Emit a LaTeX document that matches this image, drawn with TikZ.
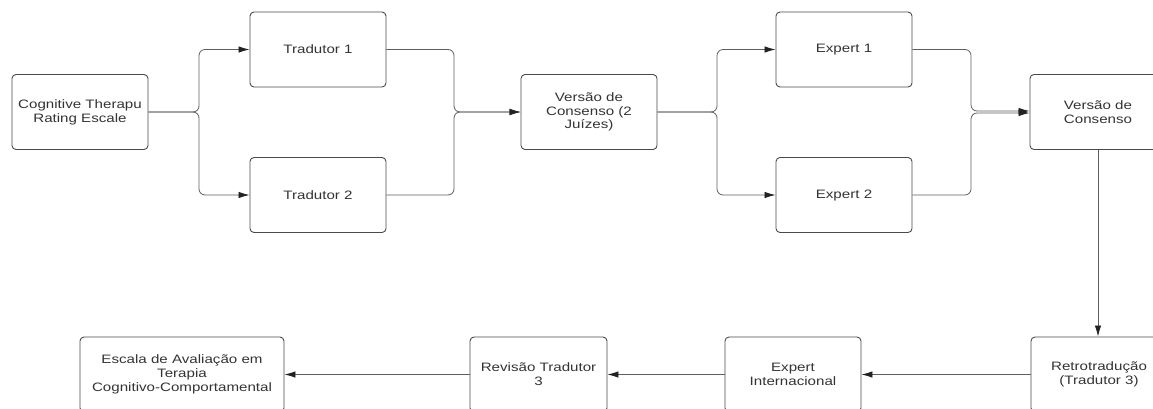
\documentclass[tikz,border=0pt]{standalone}
\usepackage{fontspec}
\setmainfont[FakeStretch=1.24]{Liberation Sans}
\usetikzlibrary{arrows.meta,calc}
\definecolor{linegray}{HTML}{5E5E5E}
\definecolor{boxgray}{HTML}{4A4A4A}
\definecolor{txtgray}{HTML}{333333}
\definecolor{headgray}{HTML}{222222}
\tikzset{
  box/.style={draw=boxgray, line width=0.9pt, rounded corners=4pt, minimum width=136pt, minimum height=75pt,
    align=center, text=txtgray, font=\fontsize{12.2}{13.8}\selectfont, inner sep=0pt},
  conn/.style={draw=linegray, line width=0.8pt, rounded corners=6pt},
  arr/.style={conn, -{Latex[length=11pt,width=6.5pt,color=headgray]}},
}
\begin{document}
\begin{tikzpicture}[x=1pt,y=-1pt]
\useasboundingbox (0,0) rectangle (1153,408);
\clip (0,0) rectangle (1153,408);
% nodes
\node[box] (cog) at (80,112) {Cognitive Therapu\\Rating Escale};
\node[box] (t1) at (318,49.5) {Tradutor 1};
\node[box] (t2) at (318,195) {Tradutor 2};
\node[box] (v1) at (589,112) {Versão de\\Consenso (2\\Juízes)};
\node[box] (e1) at (844,49.5) {Expert 1};
\node[box] (e2) at (844,195) {Expert 2};
\node[box] (v2) at (1098,112) {Versão de\\Consenso};
\node[box] (retro) at (1099,374.5) {Retrotradução\\(Tradutor 3)};
\node[box] (ei) at (793,374.5) {Expert\\Internacional};
\node[box, minimum width=137pt] (rev) at (538.5,374.5) {Revisão Tradutor\\3};
\node[box, minimum width=204pt] (esc) at (182,374.5) {Escala de Avaliação em\\Terapia\\Cognitivo-Comportamental};
% branch points
\coordinate (b1) at (199,112);
\coordinate (m1) at (454,112);
\coordinate (b2) at (717,112);
\coordinate (m2) at (971,112);
% connectors
\draw[arr] (cog.east) -- (b1) -- (b1 |- t1.west) -- (t1.west);
\draw[arr] (cog.east) -- (b1) -- (b1 |- t2.west) -- (t2.west);
\draw[arr] (t1.east) -- (m1 |- t1.east) -- (m1) -- (v1.west);
\draw[arr] (t2.east) -- (m1 |- t2.east) -- (m1) -- (v1.west);
\draw[arr] (v1.east) -- (b2) -- (b2 |- e1.west) -- (e1.west);
\draw[arr] (v1.east) -- (b2) -- (b2 |- e2.west) -- (e2.west);
\draw[arr] (e1.east) -- (m2 |- e1.east) -- ($(m2)+(0,-1)$) -- ($(v2.west)+(0,-1)$);
\draw[arr] (e2.east) -- (m2 |- e2.east) -- ($(m2)+(0,1)$) -- ($(v2.west)+(0,1)$);
\draw[arr] (v2.south) -- (v2.south |- retro.north);
\draw[arr] (retro.west) -- (ei.east);
\draw[arr] (ei.west) -- (rev.east);
\draw[arr] (rev.west) -- (esc.east);
\end{tikzpicture}
\end{document}
